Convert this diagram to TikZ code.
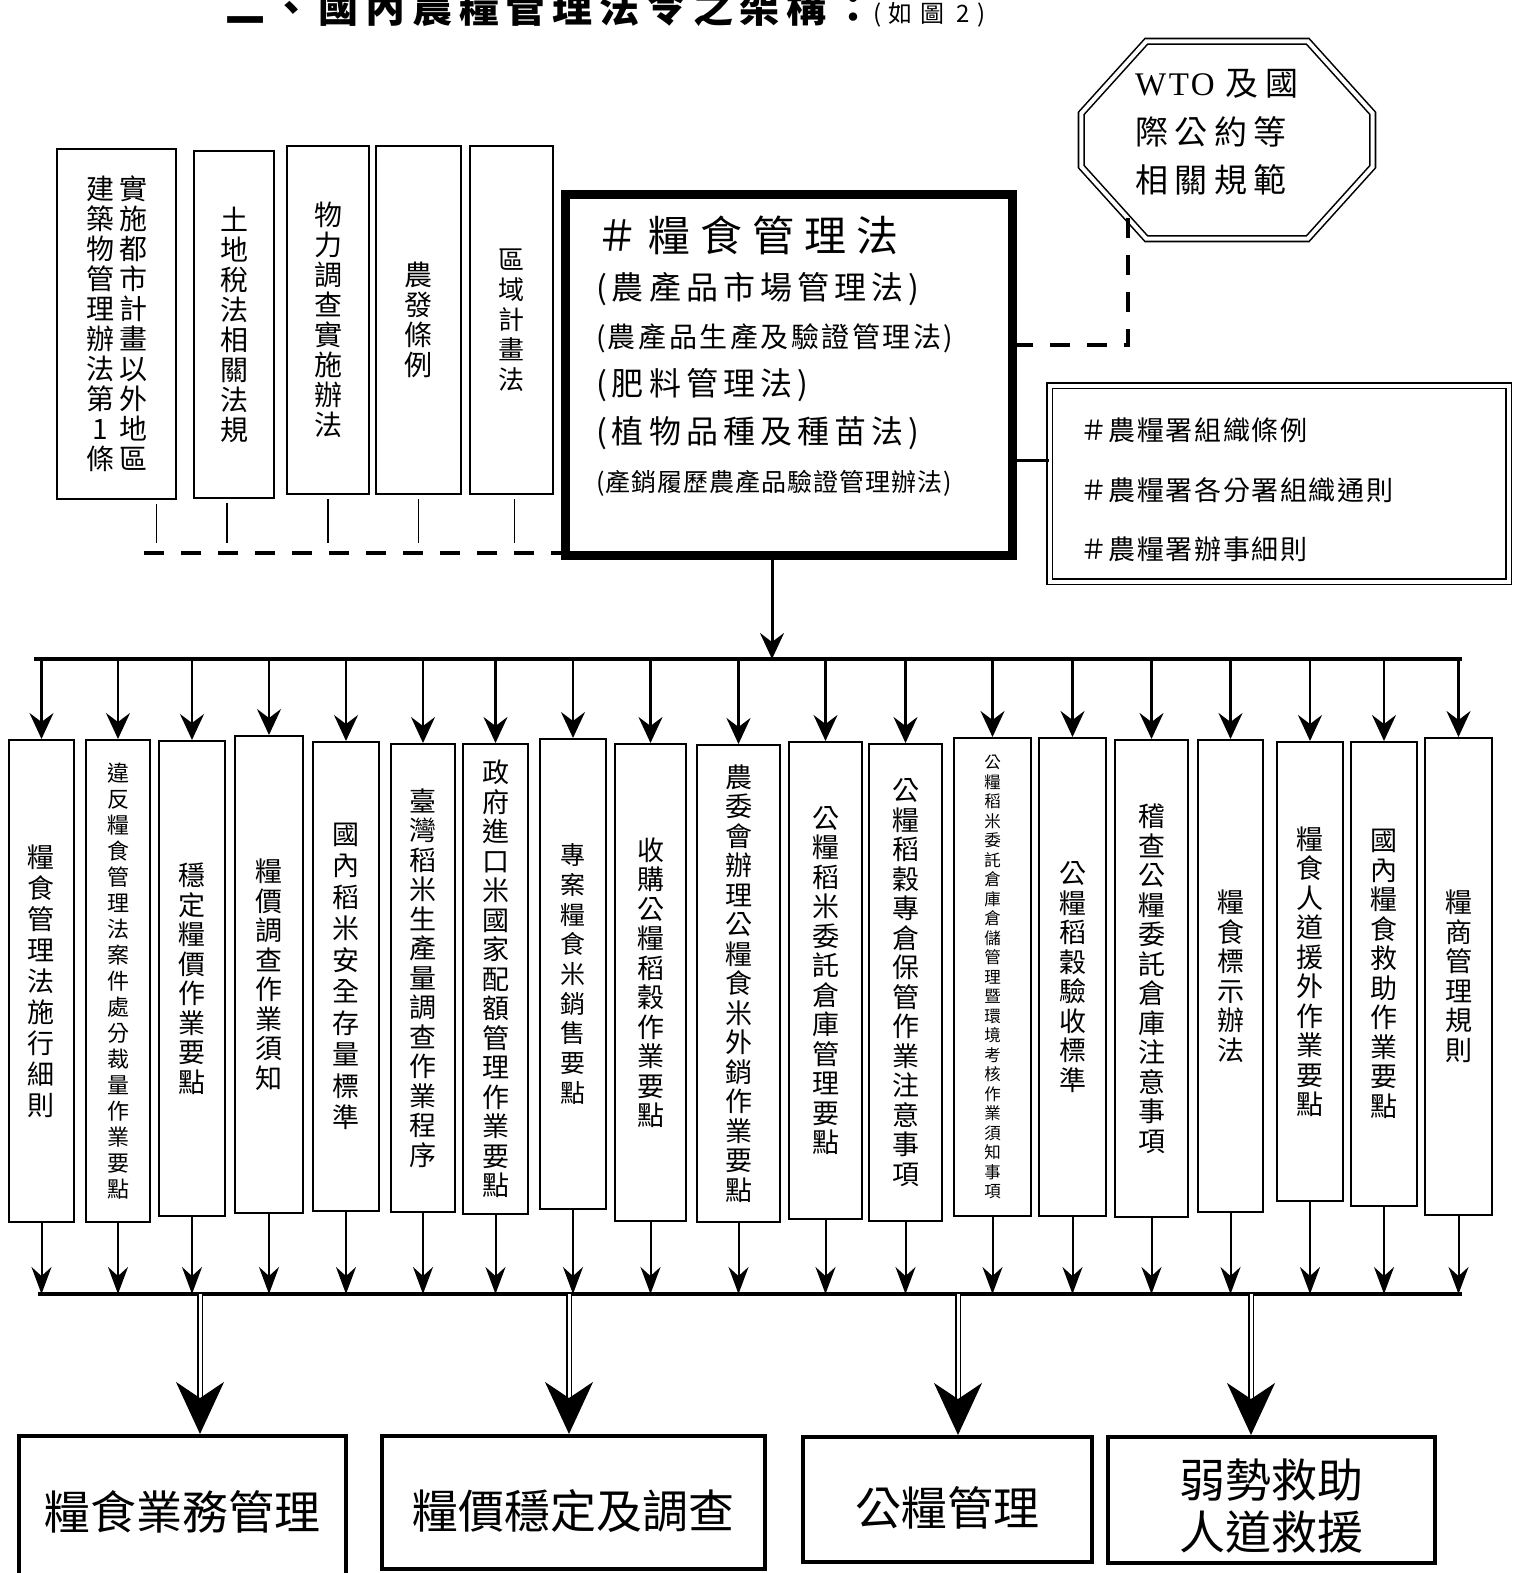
\documentclass[tikz,border=0pt]{standalone}
\usepackage{fontspec}
\setmainfont{Noto Sans CJK TC}
\newfontfamily\serifwto[LetterSpace=8]{Liberation Serif}
\usetikzlibrary{arrows.meta}

\ExplSyntaxOn
\NewDocumentCommand \colchars { m }
  {
    \vbox
      {
        \tl_map_inline:nn { #1 }
          { \hbox_to_wd:nn { 0pt } { \hss ##1 \hss } }
      }
  }
\ExplSyntaxOff

\tikzset{
  relbox/.style={draw, line width=2pt, inner sep=0pt, font=\fontsize{28}{30}\selectfont},
  regbox/.style={draw, line width=2pt, inner sep=0pt, font=\fontsize{27}{29.5}\selectfont},
  taskbox/.style={draw, line width=4pt, inner sep=0pt, align=center, font=\fontsize{46}{52}\selectfont},
  dbl/.style={double, line width=1.6pt, double distance=4pt},
  dlink/.style={line width=4pt, dash pattern=on 20pt off 17pt},
  stub/.style={line width=1.5pt, shorten <=4pt, shorten >=10pt},
  bus/.style={line width=4pt},
  feed/.style={line width=2.5pt, -{Stealth[length=26pt, width=24pt, inset=9pt]}},
  drain/.style={line width=2pt, -{Stealth[length=27pt, width=20pt, inset=9pt]}},
  bigfeed/.style={double, line width=1.5pt, double distance=3pt, -{Stealth[length=52pt, width=48pt, inset=16pt]}}
}

\begin{document}
\begin{tikzpicture}[x=1pt, y=-1pt]
\useasboundingbox (0,0) rectangle (1518,1573);

\node[anchor=base west, inner sep=0pt, font=\bfseries\fontsize{40}{40}\selectfont] (Title) at (225,23) {\addfontfeature{LetterSpace=17}二、國內農糧管理法令之架構：{\mdseries\fontsize{24}{24}\selectfont\addfontfeature{LetterSpace=30}(如圖 2)}};

\node[minimum width=291, minimum height=197, inner sep=0pt, text width=184, align=left, font=\fontsize{33}{48.5}\selectfont\addfontfeature{LetterSpace=20}] (Wto) at (1227,140) {{\serifwto WTO} 及國\\際公約等\\相關規範\rule[-18pt]{0pt}{18pt}};
\draw[dbl] ([xshift=65]Wto.north west) -- ([xshift=-65]Wto.north east) -- ([yshift=-72]Wto.north east) -- ([yshift=72]Wto.south east) -- ([xshift=-65]Wto.south east) -- ([xshift=65]Wto.south west) -- ([yshift=72]Wto.south west) -- ([yshift=-72]Wto.north west) -- cycle;
\coordinate (WtoFoot) at (1128,218);

\node[draw, line width=8pt, minimum width=448, minimum height=362, inner sep=0pt, text width=386, align=left, font=\fontsize{32}{48}\selectfont] (Main) at (789,375) {{\fontsize{42}{48}\selectfont\addfontfeature{LetterSpace=24}＃糧食管理法}\\
{\addfontfeature{LetterSpace=16}(農產品市場管理法)}\\
{\fontsize{28}{48}\selectfont\addfontfeature{LetterSpace=9}(農產品生產及驗證管理法)}\\
{\addfontfeature{LetterSpace=16}(肥料管理法)}\\
{\addfontfeature{LetterSpace=16}(植物品種及種苗法)}\\
{\fontsize{25}{48}\selectfont\addfontfeature{LetterSpace=4}(產銷履歷農產品驗證管理辦法)}\rule[-43pt]{0pt}{43pt}};
\draw[line width=2pt] ([shift={(8,-8)}]Main.south west) rectangle ([shift={(-8,8)}]Main.north east);

\node[draw, dbl, minimum width=459, minimum height=196, inner sep=0pt, text width=398, align=left, font=\fontsize{27}{59.5}\selectfont\addfontfeature{LetterSpace=6}] (Org) at (1279,483.5) {\rule{0pt}{36pt}＃農糧署組織條例\\＃農糧署各分署組織通則\\＃農糧署辦事細則};

\draw[dlink] (WtoFoot) |- ([yshift=30]Main.east);
\draw[line width=3pt] ([yshift=23.5]Org.west) -- ([yshift=23.5]Org.west -| Main.east);

\node[relbox, minimum width=119, minimum height=350] (Rel1) at (116.5,324) {\colchars{建築物管理辦法第1條}\hspace{33pt}\colchars{實施都市計畫以外地區}\hspace{12pt}};
\node[relbox, minimum width=80, minimum height=347] (Rel2) at (234,324.5) {\colchars{土地稅法相關法規}};
\node[relbox, minimum width=82, minimum height=348] (Rel3) at (328,320) {\colchars{物力調查實施辦法}};
\node[relbox, minimum width=85, minimum height=348] (Rel4) at (418.5,320) {\colchars{農發條例}};
\node[relbox, minimum width=83, minimum height=348, font=\fontsize{26}{30}\selectfont] (Rel5) at (511.5,320) {\colchars{區域計畫法}};

\coordinate (RelEnd) at (144,553);
\draw[dlink] (RelEnd) -- (RelEnd -| Main.west);
\draw[stub] ([xshift=40]Rel1.south) -- ([xshift=40]Rel1.south |- RelEnd);
\draw[stub] ([xshift=-7]Rel2.south) -- ([xshift=-7]Rel2.south |- RelEnd);
\draw[stub] (Rel3.south) -- (Rel3.south |- RelEnd);
\draw[stub] (Rel4.south) -- (Rel4.south |- RelEnd);
\draw[stub] ([xshift=3]Rel5.south) -- ([xshift=3]Rel5.south |- RelEnd);

\coordinate (TopL) at (34,659);
\coordinate (TopR) at (1462,659);
\draw[bus] (TopL) -- (TopR);
\draw[feed, line width=3pt] ([xshift=-17]Main.south) -- ([xshift=-17]Main.south |- TopL);

\node[regbox, minimum width=65, minimum height=482, font=\fontsize{27}{31}\selectfont] (Reg1) at (41.5,981) {\colchars{糧食管理法施行細則}};
\node[regbox, minimum width=64, minimum height=482, font=\fontsize{22}{26}\selectfont] (Reg2) at (118,981) {\colchars{違反糧食管理法案件處分裁量作業要點}};
\node[regbox, minimum width=66, minimum height=475] (Reg3) at (192,978.5) {\colchars{穩定糧價作業要點}};
\node[regbox, minimum width=68, minimum height=477] (Reg4) at (269,974.5) {\colchars{糧價調查作業須知}};
\node[regbox, minimum width=66, minimum height=469, font=\fontsize{27}{31.5}\selectfont] (Reg5) at (346,976.5) {\colchars{國內稻米安全存量標準}};
\node[regbox, minimum width=64, minimum height=468] (Reg6) at (423,978) {\colchars{臺灣稻米生產量調查作業程序}};
\node[regbox, minimum width=65, minimum height=470] (Reg7) at (495.5,979) {\colchars{政府進口米國家配額管理作業要點}};
\node[regbox, minimum width=66, minimum height=470, font=\fontsize{25}{29.7}\selectfont] (Reg8) at (573,974) {\colchars{專案糧食米銷售要點}};
\node[regbox, minimum width=71, minimum height=477] (Reg9) at (650.5,982.5) {\colchars{收購公糧稻穀作業要點}};
\node[regbox, minimum width=83, minimum height=477] (Reg10) at (738.5,983.5) {\colchars{農委會辦理公糧食米外銷作業要點}};
\node[regbox, minimum width=73, minimum height=477] (Reg11) at (825.5,980.5) {\colchars{公糧稻米委託倉庫管理要點}};
\node[regbox, minimum width=73, minimum height=477] (Reg12) at (905.5,982.5) {\colchars{公糧稻穀專倉保管作業注意事項}};
\node[regbox, minimum width=77, minimum height=478, font=\fontsize{16.5}{19.5}\selectfont] (Reg13) at (992.5,977) {\colchars{公糧稻米委託倉庫倉儲管理暨環境考核作業須知事項}};
\node[regbox, minimum width=67, minimum height=478] (Reg14) at (1072.5,977) {\colchars{公糧稻穀驗收標準}};
\node[regbox, minimum width=73, minimum height=477] (Reg15) at (1151.5,978.5) {\colchars{稽查公糧委託倉庫注意事項}};
\node[regbox, minimum width=65, minimum height=472] (Reg16) at (1230.5,976) {\colchars{糧食標示辦法}};
\node[regbox, minimum width=66, minimum height=459] (Reg17) at (1310,971.5) {\colchars{糧食人道援外作業要點}};
\node[regbox, minimum width=66, minimum height=464] (Reg18) at (1384,974) {\colchars{國內糧食救助作業要點}};
\node[regbox, minimum width=67, minimum height=477] (Reg19) at (1458.5,976.5) {\colchars{糧商管理規則}};

\coordinate (BotL) at (38,1294);
\coordinate (BotR) at (1462,1294);
\draw[bus, line width=4.5pt] (BotL) -- (BotR);

\draw[feed] (Reg1.north |- TopL) -- (Reg1.north); \draw[drain] (Reg1.south) -- (Reg1.south |- BotL);
\draw[feed] (Reg2.north |- TopL) -- (Reg2.north); \draw[drain] (Reg2.south) -- (Reg2.south |- BotL);
\draw[feed] (Reg3.north |- TopL) -- (Reg3.north); \draw[drain] (Reg3.south) -- (Reg3.south |- BotL);
\draw[feed] (Reg4.north |- TopL) -- (Reg4.north); \draw[drain] (Reg4.south) -- (Reg4.south |- BotL);
\draw[feed] (Reg5.north |- TopL) -- (Reg5.north); \draw[drain] (Reg5.south) -- (Reg5.south |- BotL);
\draw[feed] (Reg6.north |- TopL) -- (Reg6.north); \draw[drain] (Reg6.south) -- (Reg6.south |- BotL);
\draw[feed] (Reg7.north |- TopL) -- (Reg7.north); \draw[drain] (Reg7.south) -- (Reg7.south |- BotL);
\draw[feed] (Reg8.north |- TopL) -- (Reg8.north); \draw[drain] (Reg8.south) -- (Reg8.south |- BotL);
\draw[feed] (Reg9.north |- TopL) -- (Reg9.north); \draw[drain] (Reg9.south) -- (Reg9.south |- BotL);
\draw[feed] (Reg10.north |- TopL) -- (Reg10.north); \draw[drain] (Reg10.south) -- (Reg10.south |- BotL);
\draw[feed] (Reg11.north |- TopL) -- (Reg11.north); \draw[drain] (Reg11.south) -- (Reg11.south |- BotL);
\draw[feed] (Reg12.north |- TopL) -- (Reg12.north); \draw[drain] (Reg12.south) -- (Reg12.south |- BotL);
\draw[feed] (Reg13.north |- TopL) -- (Reg13.north); \draw[drain] (Reg13.south) -- (Reg13.south |- BotL);
\draw[feed] (Reg14.north |- TopL) -- (Reg14.north); \draw[drain] (Reg14.south) -- (Reg14.south |- BotL);
\draw[feed] (Reg15.north |- TopL) -- (Reg15.north); \draw[drain] (Reg15.south) -- (Reg15.south |- BotL);
\draw[feed] (Reg16.north |- TopL) -- (Reg16.north); \draw[drain] (Reg16.south) -- (Reg16.south |- BotL);
\draw[feed] (Reg17.north |- TopL) -- (Reg17.north); \draw[drain] (Reg17.south) -- (Reg17.south |- BotL);
\draw[feed] (Reg18.north |- TopL) -- (Reg18.north); \draw[drain] (Reg18.south) -- (Reg18.south |- BotL);
\draw[feed] (Reg19.north |- TopL) -- (Reg19.north); \draw[drain] (Reg19.south) -- (Reg19.south |- BotL);

\node[taskbox, minimum width=327, minimum height=152] (Task1) at (182.5,1512) {糧食業務管理};
\node[taskbox, minimum width=383, minimum height=133] (Task2) at (573.5,1502.5) {\rule{0pt}{56pt}糧價穩定及調查};
\node[taskbox, minimum width=289, minimum height=125] (Task3) at (947.5,1499.5) {\rule{0pt}{56pt}公糧管理};
\node[taskbox, minimum width=327, minimum height=126] (Task4) at (1271.5,1500) {\rule{0pt}{50pt}弱勢救助\\人道救援};

\draw[bigfeed] ([xshift=17.5]Task1.north |- BotL) -- ([xshift=17.5]Task1.north);
\draw[bigfeed] ([xshift=-4.5]Task2.north |- BotL) -- ([xshift=-4.5]Task2.north);
\draw[bigfeed] ([xshift=10.5]Task3.north |- BotL) -- ([xshift=10.5]Task3.north);
\draw[bigfeed] ([xshift=-20.5]Task4.north |- BotL) -- ([xshift=-20.5]Task4.north);
\end{tikzpicture}
\end{document}
